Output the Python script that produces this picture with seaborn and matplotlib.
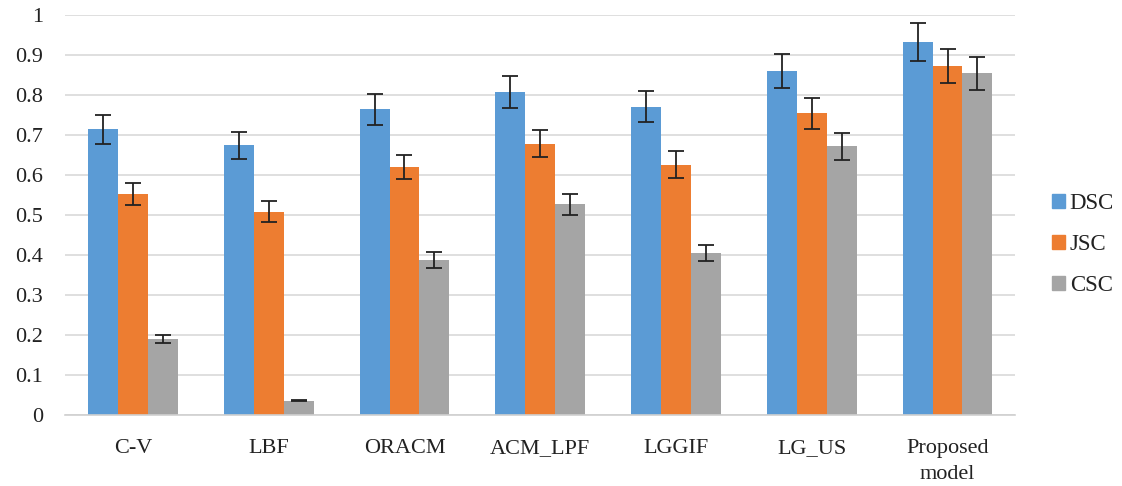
import numpy as np
import pandas as pd
import matplotlib
matplotlib.use("Agg")
import matplotlib.pyplot as plt
import seaborn as sns

methods = ["C-V", "LBF", "ORACM", "ACM_LPF", "LGGIF", "LG_US", "Proposed\nmodel"]
metrics = ["DSC", "JSC", "CSC"]

dsc = [0.714, 0.674, 0.764, 0.808, 0.771, 0.860, 0.933]
jsc = [0.553, 0.508, 0.619, 0.678, 0.626, 0.754, 0.872]
csc = [0.190, 0.036, 0.388, 0.527, 0.405, 0.672, 0.854]

dsc_err = [0.036, 0.034, 0.038, 0.040, 0.039, 0.042, 0.047]
jsc_err = [0.028, 0.026, 0.030, 0.034, 0.033, 0.038, 0.043]
csc_err = [0.010, 0.002, 0.020, 0.026, 0.021, 0.034, 0.042]

colors = ["#5b9bd5", "#ed7d31", "#a5a5a5"]

df = pd.DataFrame({
    "method": methods * 3,
    "metric": np.repeat(metrics, len(methods)),
    "value": dsc + jsc + csc,
    "err": dsc_err + jsc_err + csc_err,
})

sns.set_theme(style="white")
plt.rcParams["font.family"] = ["Liberation Serif", "DejaVu Serif"]

fig = plt.figure(figsize=(11.22, 4.86), dpi=100)
ax = fig.add_axes([0.058, 0.146, 0.847, 0.823])

sns.barplot(data=df, x="method", y="value", hue="metric", order=methods,
            hue_order=metrics, palette=colors, errorbar=None, width=0.66,
            saturation=1, linewidth=0, edgecolor="none", ax=ax, zorder=2)

# error bars centred on each drawn bar
for cont, metric in zip(ax.containers, metrics):
    sub = df[df["metric"] == metric].set_index("method").loc[methods]
    xs = [p.get_x() + p.get_width() / 2 for p in cont.patches]
    ax.errorbar(xs, sub["value"].values, yerr=sub["err"].values, fmt="none",
                ecolor="#222222", elinewidth=1.3, capsize=6, capthick=1.3,
                zorder=3)

ax.set_ylim(0, 1)
ax.set_xlim(-0.5, len(methods) - 0.5)
ax.set_yticks(np.arange(0, 1.01, 0.1))
ax.set_yticklabels(["0", "0.1", "0.2", "0.3", "0.4", "0.5", "0.6", "0.7",
                    "0.8", "0.9", "1"])
ax.yaxis.grid(True, color="#d9d9d9", linewidth=1.2, zorder=0)
ax.set_axisbelow(True)
ax.set_xlabel("")
ax.set_ylabel("")

for side in ["top", "right", "left"]:
    ax.spines[side].set_visible(False)
ax.spines["bottom"].set_color("#d0d0d0")
ax.spines["bottom"].set_linewidth(1.2)

ax.set_xticks(np.arange(-0.5, len(methods), 1.0), minor=True)
ax.tick_params(axis="x", which="major", length=0, pad=17, labelsize=16,
               labelcolor="#222222")
ax.tick_params(axis="x", which="minor", length=6, color="#d0d0d0",
               width=1.2, direction="out")
ax.tick_params(axis="y", length=0, pad=16, labelsize=16, labelcolor="#222222")
for lbl in ax.get_xticklabels():
    lbl.set_linespacing(1.55)

ax.legend_.remove()
handles = [plt.Rectangle((0, 0), 1, 1, color=c) for c in colors]
fig.legend(handles, metrics, loc="center left", bbox_to_anchor=(0.9375, 0.497),
           frameon=False, fontsize=16.5, handlelength=0.58, handleheight=0.58,
           handletextpad=0.2, labelspacing=0.88, labelcolor="#222222",
           borderaxespad=0, borderpad=0)

fig.savefig("out.png", dpi=100)
